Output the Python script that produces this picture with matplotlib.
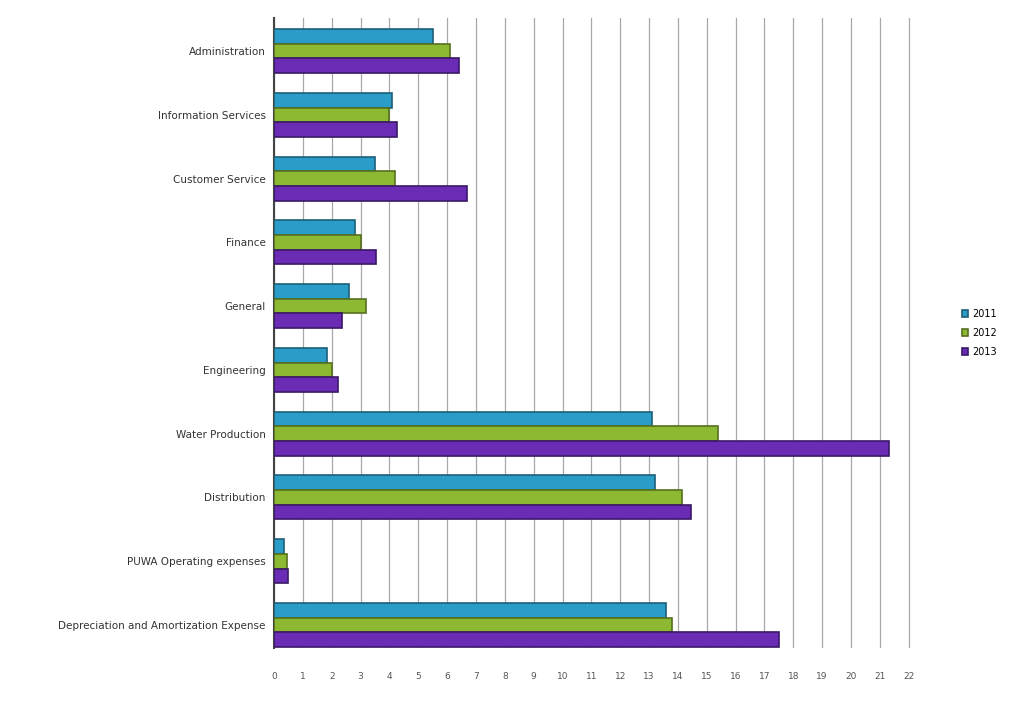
import numpy as np
import matplotlib
matplotlib.use("Agg")
import matplotlib.pyplot as plt

categories = [
    "Administration",
    "Information Services",
    "Customer Service",
    "Finance",
    "General",
    "Engineering",
    "Water Production",
    "Distribution",
    "PUWA Operating expenses",
    "Depreciation and Amortization Expense",
]
series_names = ["2011", "2012", "2013"]
# values in $ millions
vals_2011 = [5.5, 4.1, 3.5, 2.8, 2.6, 1.85, 13.1, 13.2, 0.35, 13.6]
vals_2012 = [6.1, 4.0, 4.2, 3.0, 3.2, 2.0, 15.4, 14.15, 0.45, 13.8]
vals_2013 = [6.4, 4.25, 6.7, 3.55, 2.35, 2.2, 21.3, 14.45, 0.5, 17.5]
x_ticks = list(range(0, 23))

colors = ["#2a9cc8", "#8cb832", "#6a2bb5"]
edges = ["#1d5f78", "#56701e", "#3a1868"]

fig = plt.figure(figsize=(10.31, 7.05), dpi=100)
ax = fig.add_axes([0.2658, 0.081, 0.624, 0.8935])

y = np.arange(len(categories))
h = 0.23
for i, (vals, name) in enumerate(zip([vals_2011, vals_2012, vals_2013], series_names)):
    ax.barh(y + (i - 1) * h, vals, height=h, color=colors[i], edgecolor=edges[i],
            linewidth=1.2, label=name, zorder=3)

ax.set_ylim(9.36, -0.52)
ax.set_xlim(0, 22.3)
ax.set_yticks(y)
ax.set_yticklabels(categories, fontsize=7.5, color="#333333")
ax.set_xticks(x_ticks)
ax.set_xticklabels([str(t) for t in x_ticks], fontsize=6.5, color="#555555")
ax.tick_params(axis="both", length=0, pad=6)
ax.tick_params(axis="x", pad=17)
ax.grid(axis="x", color="#a8a8a8", linewidth=0.9, zorder=0)
for s in ["top", "right", "bottom"]:
    ax.spines[s].set_visible(False)
ax.spines["left"].set_color("#444444")
ax.spines["left"].set_linewidth(1.5)

ax.legend(loc="center left", bbox_to_anchor=(1.055, 0.5), frameon=False, fontsize=7,
          handlelength=0.7, handleheight=0.7, labelspacing=0.9, handletextpad=0.4)

fig.savefig("out.png", dpi=100)
